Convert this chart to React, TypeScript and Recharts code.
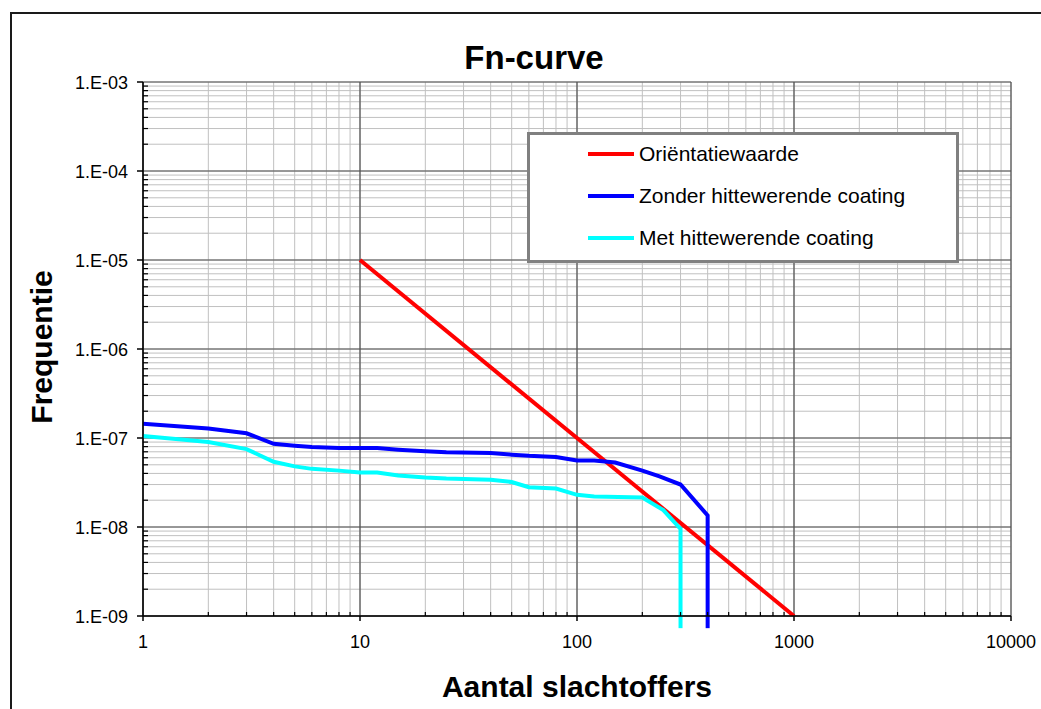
import React from 'react';
import { LineChart, Line, XAxis, YAxis, CartesianGrid, ReferenceLine, Legend } from 'recharts';

// axis decades and minor steps
const xDecades = [1, 10, 100, 1000, 10000];
const yDecades = [1e-9, 1e-8, 1e-7, 1e-6, 1e-5, 1e-4, 1e-3];
const minorSteps = [1, 2, 3, 4, 5, 6, 7, 8, 9];

const xTicks = [...xDecades.slice(0, -1).flatMap((d) => minorSteps.map((s) => s * d)), xDecades[xDecades.length - 1]];
const yTicks = [...yDecades.slice(0, -1).flatMap((d) => minorSteps.map((s) => s * d)), yDecades[yDecades.length - 1]];

// series
const orientatieX = [10, 100, 1000];
const orientatieY = [1e-5, 1e-7, 1e-9];

const zonderX = [1, 2, 3, 4, 5, 6, 8, 10, 12, 15, 20, 25, 40, 50, 60, 80, 100, 120, 150, 200, 240, 300, 400, 400];
const zonderY = [1.45e-7, 1.28e-7, 1.13e-7, 8.6e-8, 8.2e-8, 7.9e-8, 7.7e-8, 7.7e-8, 7.7e-8, 7.4e-8, 7.1e-8, 6.9e-8, 6.8e-8, 6.5e-8, 6.3e-8, 6.1e-8, 5.6e-8, 5.6e-8, 5.3e-8, 4.3e-8, 3.7e-8, 3.0e-8, 1.35e-8, 7.3e-10];

const metX = [1, 2, 3, 4, 5, 6, 8, 10, 12, 15, 20, 25, 40, 50, 60, 80, 100, 120, 200, 250, 300, 300];
const metY = [1.05e-7, 9.0e-8, 7.5e-8, 5.4e-8, 4.8e-8, 4.5e-8, 4.3e-8, 4.1e-8, 4.1e-8, 3.8e-8, 3.6e-8, 3.5e-8, 3.4e-8, 3.2e-8, 2.8e-8, 2.7e-8, 2.3e-8, 2.2e-8, 2.15e-8, 1.55e-8, 9.5e-9, 7.3e-10];

const zip = (xs: number[], ys: number[]) => xs.map((x, i) => ({ x, y: ys[i] }));

const series = [
  { name: 'Oriëntatiewaarde', color: '#ff0000', data: zip(orientatieX, orientatieY) },
  { name: 'Zonder hittewerende coating', color: '#0000ff', data: zip(zonderX, zonderY) },
  { name: 'Met hittewerende coating', color: '#00ffff', data: zip(metX, metY) },
];

const FONT = '"Liberation Sans", Arial, sans-serif';

const isDecade = (v: number) => {
  const l = Math.log10(v);
  return Math.abs(l - Math.round(l)) < 1e-9;
};

const XTick = (props: any) => {
  const { x, y, payload } = props;
  const v = payload.value;
  if (isDecade(v)) {
    return (
      <g>
        <line x1={x} y1={y} x2={x} y2={y + 5} stroke="#000" strokeWidth={1.5} />
        <text x={x} y={y + 32} textAnchor="middle" fontSize={18} fill="#000" fontFamily={FONT}>
          {Math.round(v)}
        </text>
      </g>
    );
  }
  return <line x1={x} y1={y} x2={x} y2={y - 4} stroke="#000" strokeWidth={1.2} />;
};

const YTick = (props: any) => {
  const { x, y, payload } = props;
  const v = payload.value;
  if (isDecade(v)) {
    const exp = Math.round(-Math.log10(v));
    return (
      <g>
        <line x1={x - 6} y1={y} x2={x} y2={y} stroke="#000" strokeWidth={1.5} />
        <text x={x - 15} y={y + 6.5} textAnchor="end" fontSize={18} fill="#000" fontFamily={FONT}>
          {`1.E-${String(exp).padStart(2, '0')}`}
        </text>
      </g>
    );
  }
  return <line x1={x} y1={y} x2={x + 5} y2={y} stroke="#000" strokeWidth={1.2} />;
};

const LegendBox = () => (
  <div
    style={{
      position: 'relative',
      width: 432,
      height: 131,
      boxSizing: 'border-box',
      border: '3px solid #808080',
      background: '#fff',
      fontFamily: FONT,
    }}
  >
    {series.map((s, i) => (
      <div
        key={s.name}
        style={{
          position: 'absolute',
          left: 58,
          top: 19 + i * 42 - 12,
          height: 24,
          display: 'flex',
          alignItems: 'center',
          whiteSpace: 'nowrap',
        }}
      >
        <div style={{ width: 46, height: 4, background: s.color, marginRight: 5 }} />
        <span style={{ fontSize: 21, color: '#000' }}>{s.name}</span>
      </div>
    ))}
  </div>
);

export default function App() {
  const yMin = yDecades[0];
  return (
    <div style={{ position: 'absolute', left: 0, top: 0, width: 1041, height: 709, overflow: 'hidden', background: '#fff', fontFamily: FONT }}>
      <div
        style={{
          position: 'absolute',
          left: 10,
          top: 12,
          width: 1100,
          height: 800,
          border: '2px solid #1a1a1a',
        }}
      />
      <div style={{ position: 'absolute', left: 0, top: 0 }}>
        <LineChart width={1041} height={709} margin={{ top: 82, right: 30, bottom: 0, left: 0 }}>
          <CartesianGrid stroke="#c0c0c0" strokeWidth={1} />
          {xDecades.map((v) => (
            <ReferenceLine key={`vx${v}`} x={v} stroke="#505050" strokeWidth={1.2} />
          ))}
          {yDecades.map((v) => (
            <ReferenceLine key={`hy${v}`} y={v} stroke="#505050" strokeWidth={1.2} />
          ))}
          <XAxis
            dataKey="x"
            type="number"
            scale="log"
            domain={[1, 10000]}
            ticks={xTicks}
            interval={0}
            allowDataOverflow
            height={93}
            tickSize={0}
            tickMargin={0}
            tickLine={false}
            axisLine={{ stroke: '#000', strokeWidth: 1.5 }}
            tick={XTick}
          />
          <YAxis
            dataKey="y"
            type="number"
            scale="log"
            domain={[1e-9, 1e-3]}
            ticks={yTicks}
            interval={0}
            allowDataOverflow
            width={143}
            tickSize={0}
            tickMargin={0}
            tickLine={false}
            axisLine={{ stroke: '#000', strokeWidth: 1.5 }}
            tick={YTick}
          />
          {series.map((s) => (
            <Line
              key={s.name}
              data={s.data}
              dataKey="y"
              name={s.name}
              type="linear"
              stroke={s.color}
              strokeWidth={4}
              dot={false}
              activeDot={false}
              isAnimationActive={false}
            />
          ))}
          {series.slice(1).map((s) => {
            const last = s.data[s.data.length - 1];
            return (
              <ReferenceLine
                key={`drop-${s.name}`}
                segment={[
                  { x: last.x, y: yMin },
                  { x: last.x, y: last.y },
                ]}
                stroke={s.color}
                strokeWidth={4}
                ifOverflow="visible"
              />
            );
          })}
          <Legend
            layout="horizontal"
            verticalAlign="middle"
            align="center"
            content={() => <LegendBox />}
            wrapperStyle={{ left: 527, top: 132, width: 432, height: 131 }}
          />
          <text x={534} y={69} textAnchor="middle" fontSize={33} fontWeight="bold" fill="#000" fontFamily={FONT}>
            Fn-curve
          </text>
          <text x={577} y={697} textAnchor="middle" fontSize={30} fontWeight="bold" fill="#000" fontFamily={FONT}>
            Aantal slachtoffers
          </text>
          <text
            x={52}
            y={347}
            textAnchor="middle"
            fontSize={30}
            fontWeight="bold"
            fill="#000"
            fontFamily={FONT}
            transform="rotate(-90, 52, 347)"
          >
            Frequentie
          </text>
        </LineChart>
      </div>
    </div>
  );
}
